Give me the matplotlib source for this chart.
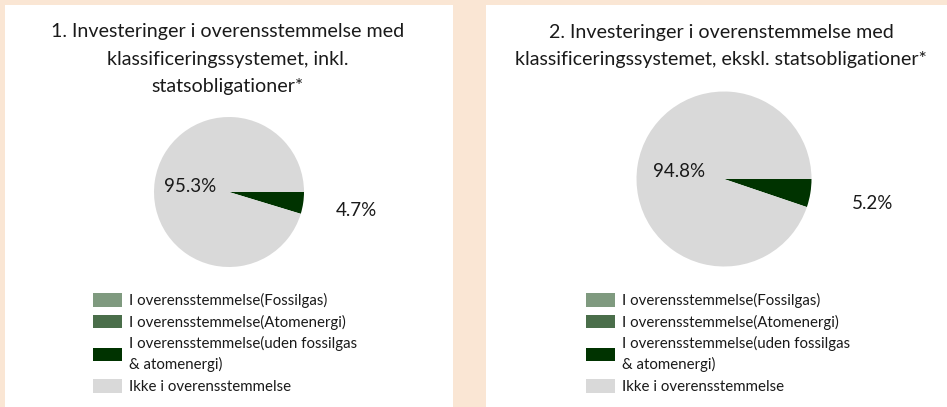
import numpy as np
import matplotlib
matplotlib.use('Agg')
import matplotlib.pyplot as plt
from matplotlib.patches import Rectangle

plt.rcParams['font.family'] = ['Lato', 'DejaVu Sans']

W, H = 947, 407

categories = [
    'I overensstemmelse(Fossilgas)',
    'I overensstemmelse(Atomenergi)',
    'I overensstemmelse(uden fossilgas\n& atomenergi)',
    'Ikke i overensstemmelse',
]
colors = ['#7F9A7F', '#4A6E4A', '#003300', '#D9D9D9']

titles = [
    '1. Investeringer i overensstemmelse med\nklassificeringssystemet, inkl.\nstatsobligationer*',
    '2. Investeringer i overenstemmelse med\nklassificeringssystemet, ekskl. statsobligationer*',
]
# shares in percent, same order as categories
shares_incl = [0.0, 0.0, 4.7, 95.3]
shares_excl = [0.0, 0.0, 5.2, 94.8]

# pixel layout per panel: panel box, pie centre, radius, title centre, legend corner
panels = [
    dict(box=(5, 5, 448, 402), centre=(229, 192), r=75, title=(228, 59), legend=(93, 293)),
    dict(box=(486, 5, 461, 402), centre=(724, 179), r=87.5, title=(721, 46), legend=(586, 293)),
]


def fx(px):
    return px / W


def fy(py):
    return 1 - py / H


fig = plt.figure(figsize=(W / 100, H / 100), dpi=100, facecolor='#FAE6D4')

for title, shares, p in zip(titles, [shares_incl, shares_excl], panels):
    x0, y0, w, h = p['box']
    fig.patches.append(Rectangle((fx(x0), fy(y0 + h)), fx(w), h / H,
                                 transform=fig.transFigure, facecolor='white',
                                 edgecolor='none', zorder=-1))

    cx, cy = p['centre']
    r = p['r']
    ax = fig.add_axes([fx(cx - r), fy(cy + r), fx(2 * r), 2 * r / H])
    ax.patch.set_visible(False)
    wedges, _ = ax.pie(shares, colors=colors, startangle=0, counterclock=False,
                       radius=1, wedgeprops=dict(linewidth=0))
    ax.set_xlim(-1, 1)
    ax.set_ylim(-1, 1)
    ax.set_aspect('equal')
    ax.axis('off')

    # value labels: grey slice inside, green slice outside
    for wdg, val in zip(wedges, shares):
        if val == 0:
            continue
        mid = np.deg2rad((wdg.theta1 + wdg.theta2) / 2)
        dist = 0.52 if val > 50 else 1.72
        ax.text(dist * np.cos(mid), dist * np.sin(mid), f'{val:.1f}%',
                ha='center', va='center', fontsize=13.5, color='#1a1a1a')

    tx, ty = p['title']
    fig.text(fx(tx), fy(ty), title, ha='center', va='center', fontsize=14.1,
             color='#1a1a1a', linespacing=1.73)

    lx, ly = p['legend']
    leg = fig.legend(wedges, categories, loc='upper left',
                     bbox_to_anchor=(fx(lx), fy(ly)), frameon=False,
                     prop=dict(size=10.8, family=['Lato', 'DejaVu Sans']),
                     borderpad=0, borderaxespad=0, handlelength=1.93, handleheight=1.0,
                     handletextpad=0.45, labelspacing=0.44, labelcolor='#1a1a1a')
    for t in leg.get_texts():
        t.set_linespacing(1.5)

fig.savefig('out.png', dpi=100, facecolor=fig.get_facecolor())
